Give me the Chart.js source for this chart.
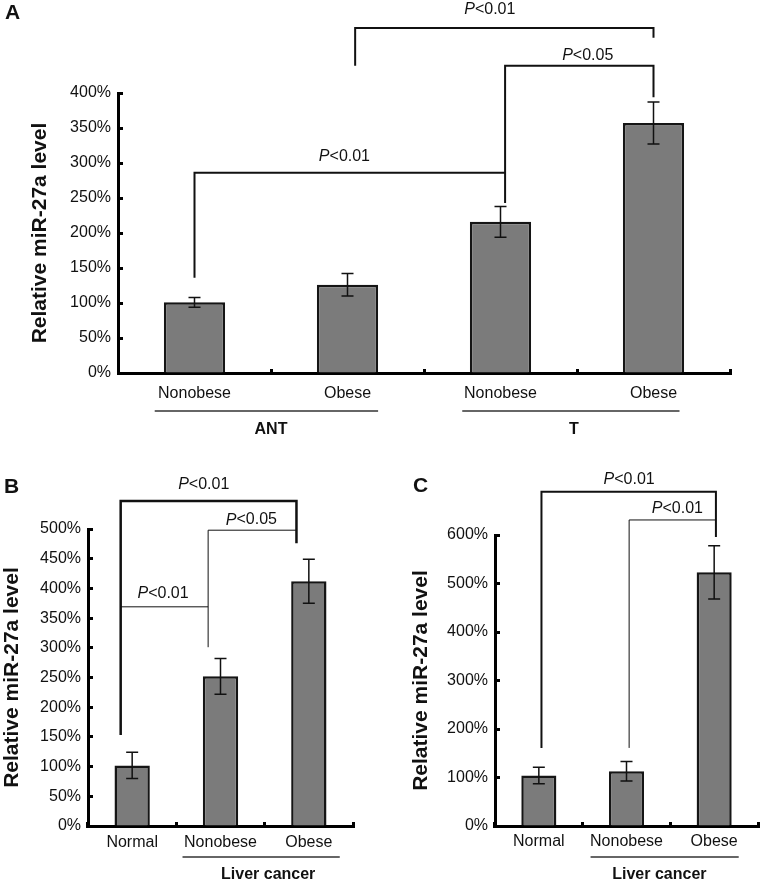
<!DOCTYPE html>
<html>
<head>
<meta charset="utf-8">
<script src="https://cdn.jsdelivr.net/npm/chart.js@4/dist/chart.umd.min.js"></script>
<style>
  body { margin: 0; background: #fff; }
  #wrap { position: relative; width: 761px; height: 882px; }
  canvas { position: absolute; }
</style>
</head>
<body>
<div id="wrap">
  <canvas id="chartA" width="761" height="440" style="left:0;top:0"></canvas>
  <canvas id="chartB" width="380" height="442" style="left:0;top:440px"></canvas>
  <canvas id="chartC" width="381" height="442" style="left:380px;top:440px"></canvas>
</div>
<script>
// Panel A - adjacent normal tissue (ANT) vs tumour (T)
const categoriesA = ['Nonobese', 'Obese', 'Nonobese', 'Obese'];
const valuesA = [101, 126, 216, 357];
const errorsA = [7, 16, 22, 30];
const yTicksA = { max: 400, step: 50 };

// Panel B
const categoriesB = ['Normal', 'Nonobese', 'Obese'];
const valuesB = [102, 252, 412];
const errorsB = [22, 30, 37];
const yTicksB = { max: 500, step: 50 };

// Panel C
const categoriesC = ['Normal', 'Nonobese', 'Obese'];
const valuesC = [104, 113, 523];
const errorsC = [17, 20, 55];
const yTicksC = { max: 600, step: 100 };

// significance brackets: [x1, x2, yLine, yLeftEnd, yRightEnd, lineWidth] (category index / value units)
const bracketsA = [
    [0, 2.03, 286, 136, 286, 2],
    [2.03, 3, 439, 243, 394, 2],
    [1.05, 3, 493, 439, 479, 2]
];
const pLabelsA = [['<0.01', 0.98, 309], ['<0.05', 2.57, 453], ['<0.01', 1.93, 519]];
const groupsA = [['ANT', -0.26, 1.2, 0.5], ['T', 1.75, 3.17, 2.48]];

const bracketsB = [
    [-0.13, 1.86, 547, 153, 476, 2.5],
    [0.86, 1.86, 498, 301, 498, 1],
    [-0.13, 0.86, 369, 369, 369, 1]
];
const pLabelsB = [['<0.01', 0.81, 574], ['<0.05', 1.35, 515], ['<0.01', 0.35, 391]];
const groupsB = [['Liver cancer', 0.57, 2.35, 1.54]];

const bracketsC = [
    [0.03, 2.02, 689, 161, 596, 2],
    [1.03, 2.02, 631, 161, 631, 1]
];
const pLabelsC = [['<0.01', 1.03, 715], ['<0.01', 1.58, 654]];
const groupsC = [['Liver cancer', 0.59, 2.28, 1.375]];

const FONT = "'Liberation Sans', Arial, sans-serif";
Chart.defaults.font.family = FONT;
Chart.defaults.color = '#111';

function extrasPlugin(p) {
    return {
        id: 'extras' + p.letter,
        afterDatasetsDraw(chart) {
            const { ctx, chartArea } = chart;
            const x = chart.scales.x, y = chart.scales.y;
            const meta = chart.getDatasetMeta(0);
            ctx.save();
            ctx.strokeStyle = '#111';
            ctx.fillStyle = '#111';

            // error bars
            ctx.lineWidth = 1.5;
            meta.data.forEach((bar, i) => {
                const top = y.getPixelForValue(p.values[i] + p.errors[i]);
                const bot = y.getPixelForValue(p.values[i] - p.errors[i]);
                ctx.beginPath();
                ctx.moveTo(bar.x, top); ctx.lineTo(bar.x, bot);
                ctx.moveTo(bar.x - 6, top); ctx.lineTo(bar.x + 6, top);
                ctx.moveTo(bar.x - 6, bot); ctx.lineTo(bar.x + 6, bot);
                ctx.stroke();
            });

            // brackets
            p.brackets.forEach(b => {
                const x1 = x.getPixelForValue(b[0]), x2 = x.getPixelForValue(b[1]);
                ctx.lineWidth = b[5];
                ctx.beginPath();
                ctx.moveTo(x1, y.getPixelForValue(b[3]));
                ctx.lineTo(x1, y.getPixelForValue(b[2]));
                ctx.lineTo(x2, y.getPixelForValue(b[2]));
                ctx.lineTo(x2, y.getPixelForValue(b[4]));
                ctx.stroke();
            });

            // P labels
            ctx.textBaseline = 'middle';
            ctx.textAlign = 'left';
            p.pLabels.forEach(l => {
                const cx = x.getPixelForValue(l[1]), cy = y.getPixelForValue(l[2]);
                ctx.font = 'italic 16px ' + FONT;
                const wP = ctx.measureText('P').width;
                ctx.font = '16px ' + FONT;
                const wR = ctx.measureText(l[0]).width;
                const sx = cx - (wP + wR) / 2;
                ctx.font = 'italic 16px ' + FONT;
                ctx.fillText('P', sx, cy);
                ctx.font = '16px ' + FONT;
                ctx.fillText(l[0], sx + wP, cy);
            });

            // group underlines + labels
            p.groups.forEach(g => {
                const ly = chartArea.bottom + p.lineOff;
                ctx.strokeStyle = '#333';
                ctx.lineWidth = 1.5;
                ctx.beginPath();
                ctx.moveTo(x.getPixelForValue(g[1]), ly);
                ctx.lineTo(x.getPixelForValue(g[2]), ly);
                ctx.stroke();
                ctx.font = 'bold 16px ' + FONT;
                ctx.textAlign = 'center';
                ctx.fillText(g[0], x.getPixelForValue(g[3]), chartArea.bottom + p.textOff);
            });

            // panel letter
            ctx.font = 'bold 21px ' + FONT;
            ctx.textAlign = 'left';
            ctx.textBaseline = 'alphabetic';
            ctx.fillText(p.letter, p.lx, p.ly);
            ctx.restore();
        }
    };
}

function makeChart(id, labels, values, yTicks, p) {
    return new Chart(document.getElementById(id), {
        type: 'bar',
        data: {
            labels: labels,
            datasets: [{
                data: values,
                backgroundColor: '#7b7b7b',
                borderColor: '#151515',
                borderWidth: 2.5,
                barPercentage: 0.4,
                categoryPercentage: 1
            }]
        },
        options: {
            responsive: false,
            animation: false,
            layout: { padding: { top: p.top, right: p.right, left: 0, bottom: 0 } },
            plugins: { legend: { display: false }, tooltip: { enabled: false } },
            scales: {
                x: {
                    offset: true,
                    border: { display: true, width: 3, color: '#000' },
                    grid: { drawOnChartArea: false, tickLength: -4, tickWidth: 3, color: '#000', offset: true },
                    ticks: { font: { size: 16 }, color: '#111', padding: p.xPad, maxRotation: 0 },
                    afterFit: s => { s.height = p.bottom; }
                },
                y: {
                    min: 0,
                    max: yTicks.max,
                    border: { display: true, width: 3, color: '#000' },
                    grid: { drawOnChartArea: false, tickLength: -5, tickWidth: 3, color: '#000' },
                    ticks: {
                        stepSize: yTicks.step,
                        font: { size: 16 },
                        color: '#111',
                        padding: 12,
                        callback: v => v + '%'
                    },
                    title: {
                        display: true,
                        text: 'Relative miR-27a level',
                        font: { size: 21, weight: 'bold' },
                        color: '#111',
                        padding: { top: p.titlePad, bottom: 0 }
                    },
                    afterFit: s => { s.width = p.left; }
                }
            }
        },
        plugins: [extrasPlugin(p)]
    });
}

makeChart('chartA', categoriesA, valuesA, yTicksA, {
    letter: 'A', lx: 5, ly: 19,
    top: 93, right: 31, left: 118, bottom: 67, xPad: 15, titlePad: 28,
    values: valuesA, errors: errorsA,
    brackets: bracketsA, pLabels: pLabelsA, groups: groupsA,
    lineOff: 38, textOff: 57
});

makeChart('chartB', categoriesB, valuesB, yTicksB, {
    letter: 'B', lx: 4, ly: 53,
    top: 89, right: 27, left: 88, bottom: 56, xPad: 11, titlePad: 0,
    values: valuesB, errors: errorsB,
    brackets: bracketsB, pLabels: pLabelsB, groups: groupsB,
    lineOff: 31, textOff: 49
});

makeChart('chartC', categoriesC, valuesC, yTicksC, {
    letter: 'C', lx: 33, ly: 52,
    top: 95, right: 3, left: 115, bottom: 56, xPad: 10, titlePad: 29,
    values: valuesC, errors: errorsC,
    brackets: bracketsC, pLabels: pLabelsC, groups: groupsC,
    lineOff: 31, textOff: 49
});
</script>
</body>
</html>
